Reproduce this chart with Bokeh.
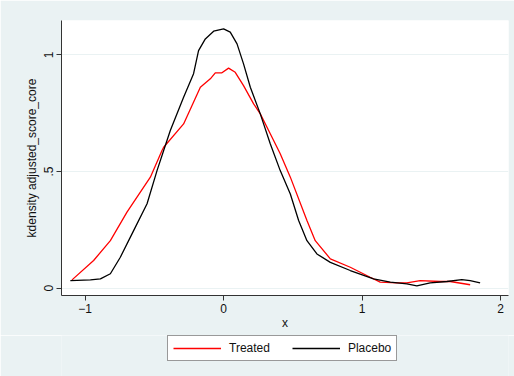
from bokeh.plotting import figure
from bokeh.layouts import column
from bokeh.models import FixedTicker, Legend, LegendItem, Range1d
from bokeh.embed import file_html
from bokeh.resources import INLINE

# Treated (red) kernel density
treated_x = [-1.095, -0.939, -0.818, -0.698, -0.529, -0.445, -0.433, -0.289, -0.168, -0.096,
             -0.060, -0.012, 0.036, 0.084, 0.144, 0.217, 0.265, 0.337, 0.409, 0.482,
             0.602, 0.662, 0.771, 0.915, 1.059, 1.131, 1.252, 1.324, 1.420, 1.565,
             1.637, 1.781]
treated_y = [0.036, 0.119, 0.204, 0.326, 0.476, 0.590, 0.604, 0.704, 0.861, 0.897,
             0.923, 0.923, 0.943, 0.925, 0.868, 0.790, 0.747, 0.662, 0.576, 0.476,
             0.290, 0.204, 0.126, 0.090, 0.047, 0.026, 0.023, 0.023, 0.033, 0.029,
             0.029, 0.015]

# Placebo (black) kernel density
placebo_x = [-1.107, -0.962, -0.890, -0.818, -0.746, -0.650, -0.553, -0.481, -0.433, -0.385,
             -0.289, -0.217, -0.181, -0.132, -0.072, 0.000, 0.048, 0.097, 0.144, 0.193,
             0.265, 0.289, 0.337, 0.409, 0.482, 0.542, 0.602, 0.674, 0.771, 0.915,
             1.083, 1.204, 1.324, 1.396, 1.492, 1.613, 1.721, 1.781, 1.853]
placebo_y = [0.033, 0.036, 0.040, 0.062, 0.133, 0.247, 0.362, 0.504, 0.590, 0.676,
             0.818, 0.919, 1.018, 1.068, 1.101, 1.111, 1.097, 1.047, 0.961, 0.861,
             0.747, 0.704, 0.619, 0.504, 0.404, 0.290, 0.204, 0.147, 0.111, 0.076,
             0.040, 0.026, 0.019, 0.010, 0.023, 0.029, 0.037, 0.033, 0.023]

x_ticks = [-1, 0, 1, 2]
y_ticks = [0, 0.5, 1]
y_tick_labels = {0: "0", 0.5: ".5", 1: "1"}
series_names = ["Treated", "Placebo"]
series_colors = ["#FF0000", "#000000"]

BG = "#EAF2F3"
FONT = "Liberation Sans"

p = figure(width=514, height=335, output_backend="svg", toolbar_location=None,
           x_range=Range1d(-1.171, 2.058), y_range=Range1d(-0.031, 1.147),
           min_border_left=61, min_border_right=6, min_border_top=20, min_border_bottom=40)
p.border_fill_color = BG
p.background_fill_color = "white"
p.outline_line_color = None

p.line(treated_x, treated_y, line_color=series_colors[0], line_width=1.3)
p.line(placebo_x, placebo_y, line_color=series_colors[1], line_width=1.3)

p.xaxis.ticker = FixedTicker(ticks=x_ticks)
p.yaxis.ticker = FixedTicker(ticks=y_ticks)
p.yaxis.major_label_overrides = y_tick_labels
p.yaxis.major_label_orientation = "vertical"
p.xaxis.axis_label = "x"
p.yaxis.axis_label = "kdensity adjusted_score_core"

for ax in (p.xaxis[0], p.yaxis[0]):
    ax.axis_line_color = "#333333"
    ax.major_tick_line_color = "#333333"
    ax.major_tick_out = 5
    ax.major_tick_in = 0
    ax.minor_tick_line_color = None
    ax.major_label_text_font = FONT
    ax.major_label_text_font_size = "12px"
    ax.major_label_text_color = "#111111"
    ax.axis_label_text_font = FONT
    ax.axis_label_text_font_size = "12px"
    ax.axis_label_text_font_style = "normal"
    ax.axis_label_text_color = "#111111"
    ax.major_label_standoff = 3
p.xaxis.axis_label_standoff = 0
p.yaxis.axis_label_standoff = 3

p.xgrid.grid_line_color = None
p.ygrid.grid_line_color = BG
p.ygrid.grid_line_width = 1.2

# Legend strip below the plot (its lines lie outside the strip's visible range)
q = figure(width=514, height=41, output_backend="svg", toolbar_location=None,
           x_axis_type=None, y_axis_type=None,
           x_range=Range1d(-1.171, 2.058), y_range=Range1d(10, 11),
           min_border_left=0, min_border_right=0, min_border_top=0, min_border_bottom=0)
q.border_fill_color = BG
q.background_fill_color = BG
q.outline_line_color = None
q.grid.grid_line_color = None
k1 = q.line(treated_x, treated_y, line_color=series_colors[0], line_width=1.3)
k2 = q.line(placebo_x, placebo_y, line_color=series_colors[1], line_width=1.3)

legend = Legend(items=[LegendItem(label=series_names[0], renderers=[k1]),
                       LegendItem(label=series_names[1], renderers=[k2])],
                orientation="horizontal", location=(106, 15))
legend.label_text_font = FONT
legend.label_text_font_size = "12px"
legend.label_text_color = "#111111"
legend.glyph_width = 48
legend.glyph_height = 14
legend.label_standoff = 8
legend.spacing = 22
legend.padding = 5
legend.margin = 0
legend.border_line_color = "#333333"
legend.border_line_width = 1
legend.background_fill_color = "white"
legend.background_fill_alpha = 1
q.add_layout(legend, "center")

layout = column(p, q, spacing=0)
open("out.html", "w").write(file_html(layout, INLINE))
